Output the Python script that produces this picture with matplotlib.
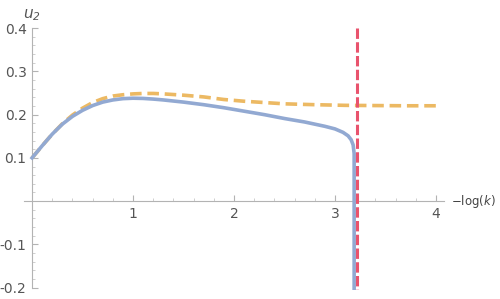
import matplotlib.pyplot as plt
from matplotlib.ticker import MultipleLocator, FixedLocator

plt.rcParams['mathtext.default'] = 'regular'

# blue solid curve
blue_x = [0, 0.1, 0.2, 0.3, 0.4, 0.5, 0.6, 0.7, 0.8, 0.9, 1.0, 1.1, 1.2, 1.3, 1.5, 1.7,
          1.9, 2.1, 2.3, 2.5, 2.7, 2.9, 3.0, 3.08, 3.13, 3.16, 3.18, 3.19, 3.19]
blue_y = [0.100, 0.128, 0.155, 0.178, 0.196, 0.210, 0.221, 0.229, 0.234, 0.237, 0.238,
          0.2375, 0.236, 0.234, 0.229, 0.223, 0.216, 0.208, 0.200, 0.191, 0.183, 0.173,
          0.167, 0.159, 0.151, 0.142, 0.130, 0.110, -0.205]

# orange dashed curve
orange_x = [0, 0.1, 0.2, 0.3, 0.4, 0.5, 0.6, 0.7, 0.8, 0.9, 1.0, 1.1, 1.2, 1.3, 1.5, 1.7,
            1.9, 2.1, 2.3, 2.5, 2.8, 3.1, 3.4, 3.7, 4.02]
orange_y = [0.100, 0.128, 0.155, 0.179, 0.199, 0.215, 0.228, 0.237, 0.243, 0.246, 0.248,
            0.249, 0.249, 0.248, 0.245, 0.241, 0.235, 0.231, 0.228, 0.225, 0.223, 0.2215,
            0.221, 0.2205, 0.2205]

# red dashed vertical line
red_x = 3.22
red_y = [0.4, -0.21]

x_major = [1, 2, 3, 4]
y_major = [-0.2, -0.1, 0.1, 0.2, 0.3, 0.4]

fig = plt.figure(figsize=(5, 2.99), dpi=100)
ax = fig.add_axes([0.047, 0.031, 0.841, 0.882])

ax.plot(orange_x, orange_y, color='#ecb963', lw=2.6, dashes=(3.2, 1.6), zorder=2)
ax.plot(blue_x, blue_y, color='#92a9d2', lw=2.6, zorder=3)
ax.plot([red_x, red_x], red_y, color='#e9536d', lw=2.2, dashes=(3.4, 1.1), zorder=4)

ax.set_xlim(-0.085, 4.08)
ax.set_ylim(-0.205, 0.405)

for s in ['top', 'right']:
    ax.spines[s].set_visible(False)
ax.spines['left'].set_position(('data', 0))
ax.spines['bottom'].set_position(('data', 0))
ax.spines['left'].set_bounds(-0.2, 0.4)
for s in ['left', 'bottom']:
    ax.spines[s].set_color('#b3b3b3')
    ax.spines[s].set_linewidth(0.8)

ax.xaxis.set_major_locator(FixedLocator(x_major))
ax.xaxis.set_minor_locator(MultipleLocator(0.2))
ax.yaxis.set_major_locator(FixedLocator(y_major))
ax.yaxis.set_minor_locator(MultipleLocator(0.02))
ax.set_xticklabels([str(v) for v in x_major])
ax.set_yticklabels(['%.1f' % v for v in y_major])

ax.tick_params(which='major', direction='in', length=4, width=0.8, color='#b3b3b3',
               labelsize=10, labelcolor='#555555', pad=4)
ax.tick_params(which='minor', direction='in', length=2.2, width=0.6, color='#c8c8c8')

ax.text(0.0, 0.43, r'$u_2$', fontsize=11, color='#555555', ha='center', va='center',
        fontstyle='italic')
ax.text(4.15, 0.0, r'$-$log($\it{k}$)', fontsize=8.5, color='#444444', ha='left', va='center',
        clip_on=False)

fig.savefig('out.png', dpi=100)
